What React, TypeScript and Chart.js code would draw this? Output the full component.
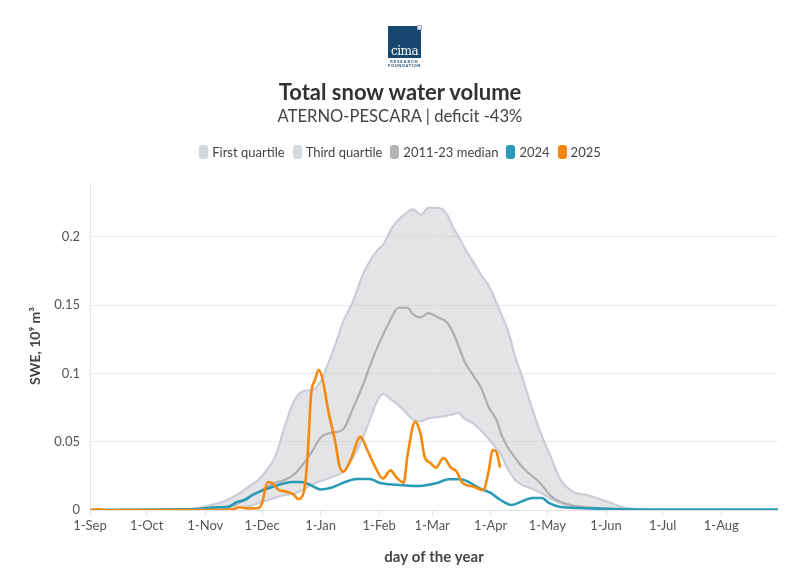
import React, { useEffect, useRef } from 'react';
import { Chart, registerables } from 'chart.js';

Chart.register(...registerables);

const FONT = "Lato, 'Open Sans', sans-serif";

// x axis: day index from 1 September (0) to 31 August (364)
const monthStarts = [0, 30, 61, 91, 122, 153, 181, 212, 242, 273, 303, 334];
const monthLabels = ['1-Sep', '1-Oct', '1-Nov', '1-Dec', '1-Jan', '1-Feb', '1-Mar', '1-Apr', '1-May', '1-Jun', '1-Jul', '1-Aug'];
const yTicks = [0, 0.05, 0.1, 0.15, 0.2];

// 2011-23 climatology (10^9 m^3)
const bandDays = [0, 45, 55, 62, 68, 75, 80, 85, 89, 94, 98, 103, 108, 113, 118, 122, 126, 130, 134, 139, 144, 148, 152, 155, 160, 163, 168, 171, 175, 179, 184, 189, 192, 195, 198, 203, 207, 211, 215, 218, 221, 225, 229, 233, 238, 244, 249, 256, 263, 274, 282, 291, 300, 364];
const thirdQuartile = [0, 0, 0.001, 0.003, 0.005, 0.009, 0.013, 0.018, 0.022, 0.03, 0.039, 0.061, 0.08, 0.087, 0.088, 0.094, 0.107, 0.122, 0.138, 0.152, 0.171, 0.182, 0.19, 0.194, 0.207, 0.212, 0.218, 0.22, 0.216, 0.221, 0.221, 0.216, 0.207, 0.2, 0.192, 0.181, 0.172, 0.164, 0.152, 0.142, 0.132, 0.112, 0.096, 0.078, 0.058, 0.038, 0.022, 0.013, 0.011, 0.006, 0.002, 0.0007, 0, 0];
const firstQuartile = [0, 0, 0, 0, 0.0003, 0.001, 0.002, 0.003, 0.005, 0.007, 0.009, 0.011, 0.012, 0.015, 0.019, 0.021, 0.023, 0.025, 0.028, 0.038, 0.052, 0.066, 0.08, 0.085, 0.08, 0.077, 0.07, 0.066, 0.065, 0.067, 0.068, 0.069, 0.07, 0.071, 0.067, 0.063, 0.058, 0.052, 0.045, 0.039, 0.03, 0.022, 0.018, 0.016, 0.013, 0.008, 0.005, 0.002, 0.001, 0.0003, 0, 0, 0, 0];
const median = [0, 0, 0.0003, 0.001, 0.002, 0.003, 0.006, 0.01, 0.013, 0.017, 0.02, 0.022, 0.026, 0.034, 0.044, 0.053, 0.056, 0.057, 0.059, 0.074, 0.09, 0.105, 0.119, 0.128, 0.142, 0.148, 0.148, 0.143, 0.141, 0.144, 0.141, 0.137, 0.13, 0.12, 0.109, 0.098, 0.089, 0.075, 0.066, 0.054, 0.046, 0.038, 0.031, 0.026, 0.02, 0.01, 0.006, 0.003, 0.002, 0.001, 0.0005, 0, 0, 0];

// season 2023-24
const days2024 = [0, 30, 50, 56, 62, 67, 72, 78, 82, 86, 92, 99, 104, 107, 112, 117, 122, 128, 135, 141, 148, 153, 162, 174, 183, 190, 196, 201, 206, 212, 217, 223, 229, 234, 239, 243, 249, 259, 277, 300, 364];
const swe2024 = [0, 0.0003, 0.0005, 0.0007, 0.0015, 0.002, 0.002, 0.006, 0.0075, 0.011, 0.0147, 0.018, 0.02, 0.0205, 0.0205, 0.018, 0.015, 0.0165, 0.0205, 0.0227, 0.0227, 0.02, 0.0185, 0.0176, 0.0195, 0.0225, 0.0225, 0.02, 0.016, 0.0125, 0.0075, 0.0037, 0.0066, 0.0088, 0.0088, 0.005, 0.0022, 0.0015, 0.0007, 0.0003, 0.0003];

// season 2024-25
const days2025 = [0, 4, 8, 70, 76, 79, 83, 89, 91, 94, 96, 100, 102, 106, 108, 110, 113, 115, 117, 119, 121, 123, 126, 130, 132, 134, 138, 143, 147, 150, 155, 159, 162, 166, 168, 172, 175, 177, 180, 183, 187, 191, 194, 197, 203, 208, 211, 213, 215, 217];
const swe2025 = [0, 0.0005, 0, 0, 0.0006, 0.002, 0.0012, 0.0015, 0.005, 0.0205, 0.02, 0.0145, 0.014, 0.0125, 0.011, 0.008, 0.0125, 0.037, 0.085, 0.095, 0.1026, 0.096, 0.073, 0.048, 0.032, 0.028, 0.037, 0.0535, 0.043, 0.034, 0.023, 0.029, 0.024, 0.02, 0.04, 0.0645, 0.055, 0.039, 0.0345, 0.031, 0.038, 0.031, 0.028, 0.02, 0.017, 0.0145, 0.029, 0.044, 0.0425, 0.031];

const BAND_LINE = '#c9ced6';
const BAND_FILL = 'rgba(196,196,201,0.45)';
const MEDIAN_COLOR = '#afafaf';
const COLOR_2024 = '#2a9bb6';
const COLOR_2025 = '#f5890f';

const legendItems = [
  { label: 'First quartile', color: '#d2d6dd' },
  { label: 'Third quartile', color: '#d5d9e0' },
  { label: '2011-23 median', color: '#b4b4b4' },
  { label: '2024', color: COLOR_2024 },
  { label: '2025', color: COLOR_2025 },
];

const toPoints = (xs: number[], ys: number[]) => xs.map((x, i) => ({ x, y: ys[i] }));

export default function App() {
  const canvasRef = useRef<HTMLCanvasElement>(null);

  useEffect(() => {
    const canvas = canvasRef.current;
    if (!canvas) return;
    const lineBase = { pointRadius: 0, cubicInterpolationMode: 'monotone' as const, fill: false };
    const chart = new Chart(canvas, {
      type: 'line',
      data: {
        datasets: [
          { ...lineBase, label: '2025', data: toPoints(days2025, swe2025), borderColor: COLOR_2025, borderWidth: 2.6 },
          { ...lineBase, label: '2024', data: toPoints(days2024, swe2024), borderColor: COLOR_2024, borderWidth: 2.6 },
          { ...lineBase, label: '2011-23 median', data: toPoints(bandDays, median), borderColor: MEDIAN_COLOR, borderWidth: 2.2 },
          { ...lineBase, label: 'First quartile', data: toPoints(bandDays, firstQuartile), borderColor: BAND_LINE, borderWidth: 2.2 },
          {
            ...lineBase,
            label: 'Third quartile',
            data: toPoints(bandDays, thirdQuartile),
            borderColor: BAND_LINE,
            borderWidth: 2.2,
            fill: 3,
            backgroundColor: BAND_FILL,
          },
        ],
      },
      options: {
        responsive: false,
        animation: false,
        events: [],
        layout: { padding: { left: 0, right: 22, top: 182, bottom: 0 } },
        plugins: { legend: { display: false }, tooltip: { enabled: false } },
        scales: {
          x: {
            type: 'linear',
            min: 0,
            max: 364,
            afterBuildTicks: (scale: any) => {
              scale.ticks = monthStarts.map((v) => ({ value: v }));
            },
            afterFit: (scale: any) => {
              scale.height = 78;
              scale.paddingLeft = 0;
              scale.paddingRight = 0;
            },
            ticks: {
              autoSkip: false,
              maxRotation: 0,
              padding: 3,
              color: '#555',
              font: { family: FONT, size: 13 },
              callback: (_v: any, i: number) => monthLabels[i],
            },
            grid: { drawOnChartArea: false, drawTicks: true, tickLength: 5, color: '#dcdcdc' },
            border: { display: true, color: '#e2e2e2' },
            title: {
              display: true,
              text: 'day of the year',
              color: '#444',
              font: { family: FONT, size: 15, weight: 'bold' },
              padding: { top: 4, bottom: 22 },
            },
          },
          y: {
            type: 'linear',
            min: 0,
            max: 0.24,
            afterBuildTicks: (scale: any) => {
              scale.ticks = yTicks.map((v) => ({ value: v }));
            },
            afterFit: (scale: any) => {
              scale.width = 90;
              scale.paddingTop = 0;
              scale.paddingBottom = 0;
            },
            ticks: {
              padding: 10,
              color: '#555',
              font: { family: FONT, size: 13 },
              callback: (v: any) => String(v),
            },
            grid: { drawTicks: false, color: '#ebebeb' },
            border: { display: true, color: '#e6e6e6' },
            title: {
              display: true,
              text: 'SWE, 10⁹ m³',
              color: '#444',
              font: { family: FONT, size: 14, weight: 'bold' },
              padding: { top: 27, bottom: 0 },
            },
          },
        },
      },
    });
    return () => chart.destroy();
  }, []);

  return (
    <div style={{ position: 'absolute', left: 0, top: 0, width: 800, height: 588, background: '#fff', fontFamily: FONT, overflow: 'hidden' }}>
      <canvas ref={canvasRef} width={800} height={588} style={{ position: 'absolute', left: 0, top: 0 }} />
      {/* foundation logo */}
      <div style={{ position: 'absolute', left: 388, top: 26, width: 33 }}>
        <div style={{ position: 'relative', width: 33, height: 32, background: '#17476f' }}>
          <div style={{ position: 'absolute', right: -1, top: -1, width: 5, height: 5, background: '#e4e8ee', border: '1px solid #9fb0c4', boxSizing: 'border-box' }} />
          <div style={{ position: 'absolute', left: 0, right: 0, bottom: 1, textAlign: 'center', color: '#fff', fontFamily: "'DejaVu Serif', serif", fontSize: 12, lineHeight: '12px', letterSpacing: -0.5 }}>cima</div>
        </div>
        <div style={{ color: '#17476f', fontSize: 4, lineHeight: '4px', textAlign: 'center', letterSpacing: 1, marginTop: 2, fontWeight: 'bold' }}>RESEARCH</div>
        <div style={{ color: '#17476f', fontSize: 4, lineHeight: '4px', textAlign: 'center', letterSpacing: 0.6, fontWeight: 'bold' }}>FOUNDATION</div>
      </div>
      <div style={{ position: 'absolute', left: 0, width: 800, top: 78, textAlign: 'center', fontSize: 22, fontWeight: 'bold', color: '#333', lineHeight: '28px' }}>
        Total snow water volume
      </div>
      <div style={{ position: 'absolute', left: 0, width: 800, top: 105, textAlign: 'center', fontSize: 16.6, color: '#444', lineHeight: '22px' }}>
        ATERNO-PESCARA | deficit -43%
      </div>
      <div style={{ position: 'absolute', left: 0, width: 800, top: 143, display: 'flex', justifyContent: 'center', alignItems: 'center', fontSize: 13, color: '#444', lineHeight: '18px' }}>
        {legendItems.map((it) => (
          <div key={it.label} style={{ display: 'flex', alignItems: 'center', margin: '0 4px' }}>
            <span style={{ display: 'inline-block', width: 9, height: 14, borderRadius: 3, background: it.color, marginRight: 4 }} />
            <span>{it.label}</span>
          </div>
        ))}
      </div>
    </div>
  );
}
